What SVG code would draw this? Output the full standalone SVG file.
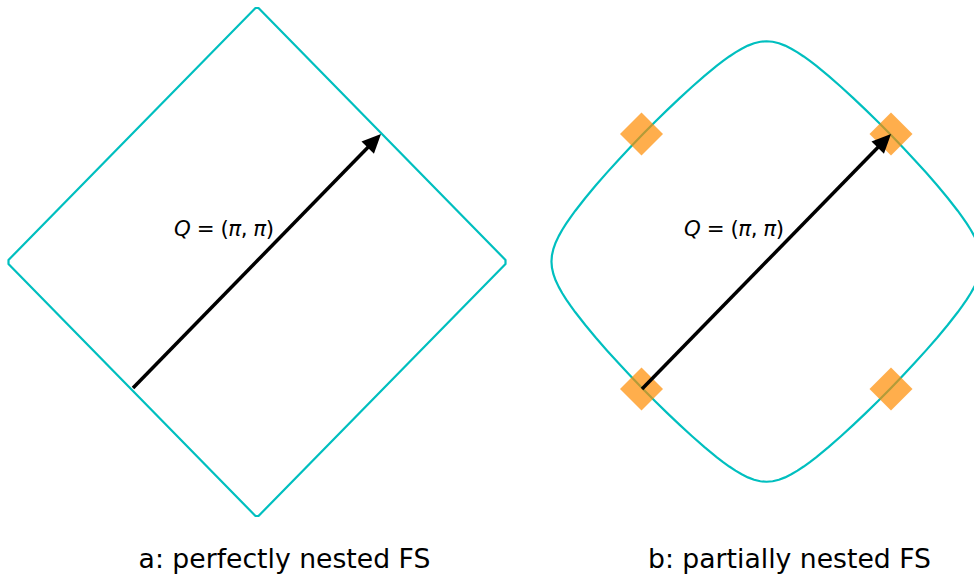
<svg xmlns="http://www.w3.org/2000/svg" xmlns:xlink="http://www.w3.org/1999/xlink" width="974" height="575" viewBox="0 0 974 575">
<style>
.fs{fill:none;stroke:#00bfbf;stroke-width:2.2;stroke-linejoin:round}
.arr{stroke:#000;stroke-width:3.5;fill:none}
.head{fill:#000;stroke:none}
.hot{fill:#ff8c00;fill-opacity:0.7;stroke:none}
.lbl{font-family:"DejaVu Sans","Liberation Sans",sans-serif;font-size:21.33px;fill:#000}
.it{font-style:italic}
.cap{font-family:"DejaVu Sans","Liberation Sans",sans-serif;font-size:26.67px;fill:#000;text-anchor:middle}
</style>
<defs>
<polygon id="dia" points="0,-21.5 21.5,0 0,21.5 -21.5,0"/>
</defs>
<rect width="974" height="575" fill="#fff"/>
<g id="fs-a">
<polygon class="fs" points="8.5,260 255.5,8 258.5,8 505.5,260 505.5,264 258.5,516 255.5,516 8.5,264"/>
</g>
<g id="fs-b" transform="translate(766.5,261.5)">
<path class="fs" d="M0,-220.25 L6.2,-219.73 12.4,-218.24 18.6,-215.89 24.8,-212.81 31,-209.15 37.2,-205.04 43.4,-200.56 49.6,-195.79 62,-185.61 74.4,-174.76 86.8,-163.42 99.2,-151.66 111.6,-139.51 124,-127 136.22,-114.3 148.08,-101.6 159.56,-88.9 170.64,-76.2 181.22,-63.5 191.17,-50.8 195.82,-44.45 200.19,-38.1 204.21,-31.75 207.78,-25.4 210.79,-19.05 213.08,-12.7 214.54,-6.35 215.04,0 214.54,6.35 213.08,12.7 210.79,19.05 207.78,25.4 204.21,31.75 200.19,38.1 195.82,44.45 191.17,50.8 181.22,63.5 170.64,76.2 159.56,88.9 148.08,101.6 136.22,114.3 124,127 111.6,139.51 99.2,151.66 86.8,163.42 74.4,174.76 62,185.61 49.6,195.79 43.4,200.56 37.2,205.04 31,209.15 24.8,212.81 18.6,215.89 12.4,218.24 6.2,219.73 0,220.25 -6.2,219.73 -12.4,218.24 -18.6,215.89 -24.8,212.81 -31,209.15 -37.2,205.04 -43.4,200.56 -49.6,195.79 -62,185.61 -74.4,174.76 -86.8,163.42 -99.2,151.66 -111.6,139.51 -124,127 -136.22,114.3 -148.08,101.6 -159.56,88.9 -170.64,76.2 -181.22,63.5 -191.17,50.8 -195.82,44.45 -200.19,38.1 -204.21,31.75 -207.78,25.4 -210.79,19.05 -213.08,12.7 -214.54,6.35 -215.04,0 -214.54,-6.35 -213.08,-12.7 -210.79,-19.05 -207.78,-25.4 -204.21,-31.75 -200.19,-38.1 -195.82,-44.45 -191.17,-50.8 -181.22,-63.5 -170.64,-76.2 -159.56,-88.9 -148.08,-101.6 -136.22,-114.3 -124,-127 -111.6,-139.51 -99.2,-151.66 -86.8,-163.42 -74.4,-174.76 -62,-185.61 -49.6,-195.79 -43.4,-200.56 -37.2,-205.04 -31,-209.15 -24.8,-212.81 -18.6,-215.89 -12.4,-218.24 -6.2,-219.73 Z"/>
</g>
<g id="hotspots">
<use xlink:href="#dia" class="hot" x="641.5" y="134"/>
<use xlink:href="#dia" class="hot" x="891" y="134"/>
<use xlink:href="#dia" class="hot" x="641.5" y="389"/>
<use xlink:href="#dia" class="hot" x="891" y="389"/>
</g>
<g id="connectors">
<line class="arr" x1="133" y1="388" x2="368.5" y2="146.8"/>
<polygon class="head" points="381,134 373.95,153.67 361.51,141.51"/>
<line class="arr" x1="642" y1="389" x2="878.5" y2="146.8"/>
<polygon class="head" points="891,134 883.95,153.67 871.51,141.51"/>
</g>
<g id="label-a">
<text class="lbl" x="174" y="236" textLength="100" lengthAdjust="spacing"><tspan class="it">Q</tspan> = (<tspan class="it">π</tspan>, <tspan class="it">π</tspan>)</text>
</g>
<g id="label-b">
<text class="lbl" x="684" y="236" textLength="100" lengthAdjust="spacing"><tspan class="it">Q</tspan> = (<tspan class="it">π</tspan>, <tspan class="it">π</tspan>)</text>
</g>
<g id="caption-a"><text class="cap" x="284.5" y="568">a: perfectly nested FS</text></g>
<g id="caption-b"><text class="cap" x="789.5" y="568">b: partially nested FS</text></g>
</svg>
